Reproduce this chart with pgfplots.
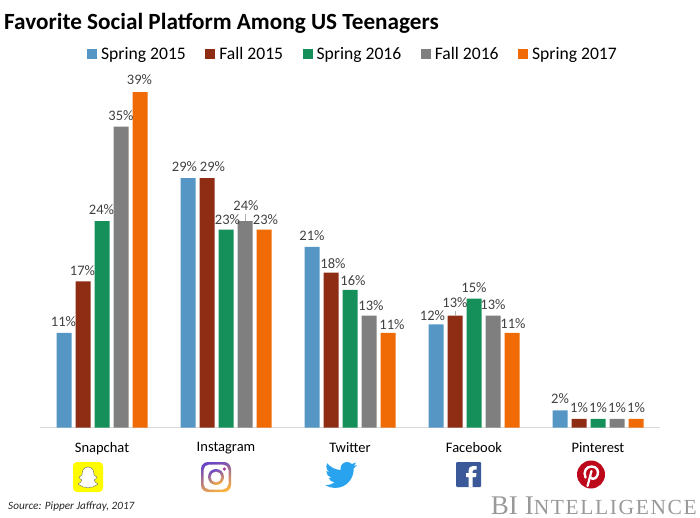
\documentclass[border=0pt]{standalone}
\usepackage{fontspec}
\setmainfont{Carlito}
\newfontfamily\biserif{Liberation Serif}
\usepackage{pgfplots}
\pgfplotsset{compat=1.18}
\usetikzlibrary{shadings}

\definecolor{cSpringA}{HTML}{5596C4}
\definecolor{cFallA}{HTML}{8E2D13}
\definecolor{cSpringB}{HTML}{16905A}
\definecolor{cFallB}{HTML}{7F7F7F}
\definecolor{cSpringC}{HTML}{F06A05}
\definecolor{labelgray}{HTML}{404040}
\definecolor{fbblue}{HTML}{3B5998}
\definecolor{twblue}{HTML}{2AA3EF}
\definecolor{snapyellow}{HTML}{FFFC00}
\definecolor{pinred}{HTML}{BD081C}
\definecolor{igpurple}{HTML}{6A45C4}
\definecolor{igpink}{HTML}{D62A85}
\definecolor{igorange}{HTML}{FBB040}

% x, value, then the label's offset from the bar centre and bar top
\pgfplotstableread{
x y dx dy
0 11 -0.5 11.5
1 29 -3.5 11
2 21 0 11.3
3 12 -3.5 9
4 2 0 12
}\tblSpringA
\pgfplotstableread{
x y dx dy
0 17 -0.5 11
1 29 5.5 11
2 18 2 9
3 13 0 12.7
4 1 0 11.5
}\tblFallA
\pgfplotstableread{
x y dx dy
0 24 -0.5 11.5
1 23 1.5 10
2 16 3 9.5
3 15 0 11
4 1 0 11.5
}\tblSpringB
\pgfplotstableread{
x y dx dy
0 35 0 11
1 24 1 15
2 13 2 10
3 13 0 11.5
4 1 0 11.5
}\tblFallB
\pgfplotstableread{
x y dx dy
0 39 -0.5 12
1 23 1.5 10
2 11 4 8
3 11 1 9.5
4 1 0 11.5
}\tblSpringC

\begin{document}
\begin{tikzpicture}[x=1pt,y=1pt]
\useasboundingbox (0,0) rectangle (700,517);
\begin{axis}[
    at={(40pt,89.5pt)}, anchor=south west,
    scale only axis,
    width=620pt, height=387pt,
    xmin=-0.5, xmax=4.5,
    ymin=0, ymax=45,
    axis x line*=bottom,
    axis y line=none,
    axis line style={draw=black!15, line width=1pt, -},
    xtick={0,1,2,3,4},
    xticklabels={Snapchat,Instagram,Twitter,Facebook,Pinterest},
    xtick style={draw=none},
    xticklabel style={font=\fontsize{14.5}{16}\selectfont, text=black, yshift=-7pt},
    ybar=4pt,
    bar width=15pt,
    point meta=y,
    visualization depends on={\thisrow{dx} \as \labeldx},
    visualization depends on={\thisrow{dy} \as \labeldy},
    nodes near coords={\pgfmathprintnumber[assume math mode=true]{\pgfplotspointmeta}\%},
    nodes near coords style={font=\fontsize{14.5}{16}\selectfont, text=labelgray, inner sep=0pt,
        anchor=center, xshift=\labeldx pt, yshift=\labeldy pt},
    legend columns=5,
    legend style={
        at={(0.5,1.0)}, anchor=center, yshift=-13.5pt, xshift=3pt,
        draw=none, fill=none, font=\fontsize{17.6}{19}\selectfont,
        /tikz/every odd column/.append style={column sep=2pt},
        /tikz/every even column/.append style={column sep=17.5pt}},
    legend image code/.code={\fill[#1] (0pt,-5pt) rectangle (10pt,5pt);},
]
\addplot[fill=cSpringA, draw=none] table[x=x,y=y] {\tblSpringA};
\addplot[fill=cFallA, draw=none] table[x=x,y=y] {\tblFallA};
\addplot[fill=cSpringB, draw=none] table[x=x,y=y] {\tblSpringB};
\addplot[fill=cFallB, draw=none] table[x=x,y=y] {\tblFallB};
\addplot[fill=cSpringC, draw=none] table[x=x,y=y] {\tblSpringC};
\legend{Spring 2015,Fall 2015,Spring 2016,Fall 2016,Spring 2017}
\end{axis}

% everything below is in picture pixels, y down
\begin{scope}[shift={(0,517)},y=-1pt]
\node[anchor=base west, inner sep=0pt, font=\fontsize{23.2}{26}\selectfont\bfseries] at (4,29.5) {Favorite Social Platform Among US Teenagers};
\node[anchor=base west, inner sep=0pt, font=\fontsize{11.2}{13}\selectfont\itshape, text=black!85] at (8,509.5) {Source: Pipper Jaffray, 2017};
\node[anchor=base east, inner sep=0pt, text=black!40, font=\biserif] at (697,514.5) {\fontsize{27}{28}\selectfont BI\hspace{7pt}I\fontsize{21.5}{24}\selectfont \addfontfeatures{LetterSpace=7.5}NTELLIGENCE};

% leader lines of two labels
\draw[black!30, line width=0.5pt] (245.5,214) -- (245.5,221);
\draw[black!30, line width=0.5pt] (455.5,311) -- (455.5,316);

% snapchat
\fill[snapyellow, rounded corners=4pt] (73,462) rectangle (103,492);
\draw[fill=white, draw=black!60, line width=0.4pt, line join=round]
  (88,467) .. controls (92,467) and (94,470) .. (94,475)
  .. controls (94,476) and (96,476) .. (97,477)
  .. controls (97,479) and (95,479) .. (94,480)
  .. controls (94,482) and (97,483) .. (98,484)
  .. controls (97,486) and (94,485) .. (93,487)
  .. controls (91,486) and (90,488) .. (88,488)
  .. controls (86,488) and (85,486) .. (83,487)
  .. controls (82,485) and (79,486) .. (78,484)
  .. controls (79,483) and (82,482) .. (82,480)
  .. controls (81,479) and (79,479) .. (79,477)
  .. controls (80,476) and (82,476) .. (82,475)
  .. controls (82,470) and (84,467) .. (88,467) -- cycle;

% instagram
\shade[even odd rule, top color=igpurple, middle color=igpink, bottom color=igorange, shading angle=20]
  [rounded corners=7pt] (201,462) rectangle (231,492) [rounded corners=5.5pt] (203.5,464.5) rectangle (228.5,489.5);
\shade[even odd rule, top color=igpurple, middle color=igpink, bottom color=igorange, shading angle=20]
  (216,477) circle (8) (216,477) circle (5.5);
\fill[igpurple!50!igpink] (224.3,469) circle (1.8);

% twitter
\begin{scope}[shift={(325,459)},x=1.33pt,y=-1.33pt]
\fill[twblue] (23.95,4.57) -- (21.13,5.35) .. controls (22.14,4.74) and (22.92,3.78) .. (23.29,2.62)
  .. controls (22.34,3.18) and (21.28,3.58) .. (20.16,3.80)
  .. controls (19.26,2.84) and (17.98,2.25) .. (16.57,2.25)
  .. controls (13.85,2.25) and (11.65,4.45) .. (11.65,7.17)
  .. controls (11.65,7.55) and (11.69,7.93) .. (11.78,8.29)
  .. controls (7.69,8.09) and (4.07,6.13) .. (1.64,3.16)
  .. controls (1.22,3.88) and (0.97,4.73) .. (0.97,5.64)
  .. controls (0.97,7.35) and (1.84,8.85) .. (3.16,9.73)
  .. controls (2.35,9.71) and (1.59,9.49) .. (0.93,9.12) -- (0.93,9.18)
  .. controls (0.93,11.57) and (2.63,13.55) .. (4.88,14.01)
  .. controls (4.47,14.12) and (4.03,14.18) .. (3.59,14.18)
  .. controls (3.28,14.18) and (2.98,14.15) .. (2.67,14.09)
  .. controls (3.30,16.05) and (5.12,17.47) .. (7.27,17.51)
  .. controls (5.59,18.83) and (3.46,19.61) .. (1.17,19.61)
  .. controls (.78,19.61) and (.39,19.59) .. (0,19.55)
  .. controls (2.18,20.95) and (4.77,21.76) .. (7.56,21.76)
  .. controls (16.61,21.76) and (21.56,14.26) .. (21.56,7.77)
  .. controls (21.56,7.56) and (21.56,7.35) .. (21.54,7.14)
  .. controls (22.5,6.45) and (23.34,5.58) .. (24,4.59) -- cycle;
\end{scope}

% facebook
\fill[fbblue, rounded corners=1pt] (456,462) rectangle (481,487);
\fill[white] (476.5,466) -- (473,466) .. controls (470,466) and (468.5,468) .. (468.5,470.5) -- (468.5,473) -- (466,473) -- (466,477) -- (468.5,477) -- (468.5,487) -- (472.5,487) -- (472.5,477) -- (476,477) -- (476.5,473) -- (472.5,473) -- (472.5,471) .. controls (472.5,470) and (473,469.5) .. (474,469.5) -- (476.5,469.5) -- cycle;

% pinterest
\fill[pinred] (591,474.5) circle (14);
\draw[white, line width=2.4pt, line cap=round]
  (585.5,477.5) .. controls (583,472) and (586,466.5) .. (591.5,466.5)
  .. controls (597,466.5) and (599,471) .. (597.5,475)
  .. controls (596.5,478.5) and (592.5,480) .. (590.5,477.5);
\draw[white, line width=2.2pt, line cap=round] (591.5,471) -- (587.5,486);
\end{scope}
\end{tikzpicture}
\end{document}
